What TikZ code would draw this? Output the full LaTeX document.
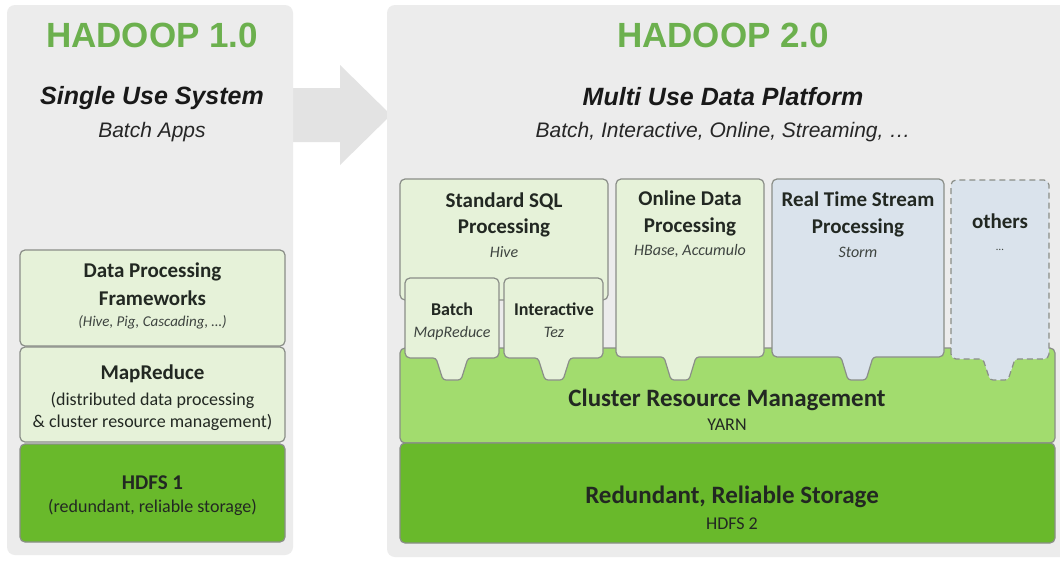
\documentclass[tikz,border=0pt]{standalone}
\usepackage{fontspec}
\setmainfont{Carlito}
\newfontfamily\arialf{Liberation Sans}
\definecolor{panelgray}{HTML}{ECECEC}
\definecolor{arrowgray}{HTML}{E3E3E3}
\definecolor{palegreen}{HTML}{E6F2D9}
\definecolor{bluegray}{HTML}{DAE3EC}
\definecolor{yarngreen}{HTML}{A2DC6E}
\definecolor{hdfsgreen}{HTML}{69B92B}
\definecolor{titlegreen}{HTML}{6CB04E}
\definecolor{linegray}{HTML}{8A8E88}
\definecolor{txtdark}{HTML}{222822}
\definecolor{txtsub}{HTML}{3E4440}
\tikzset{
  boxline/.style={draw=linegray, line width=1.2pt},
  bigtitle/.style={anchor=base, inner sep=0pt, text=titlegreen, font=\arialf\bfseries\fontsize{35}{40}\selectfont},
  subtitle/.style={anchor=base, inner sep=0pt, text=black!90, font=\arialf\bfseries\itshape\fontsize{25}{30}\selectfont},
  subsub/.style={anchor=base, inner sep=0pt, text=black!85, font=\arialf\itshape\fontsize{21}{25}\selectfont},
  head/.style={anchor=base, inner sep=0pt, text=txtdark, font=\bfseries\fontsize{21}{25}\selectfont},
  smallhead/.style={anchor=base, inner sep=0pt, text=txtdark, font=\bfseries\fontsize{18}{22}\selectfont},
  ital/.style={anchor=base, inner sep=0pt, text=txtsub, font=\itshape\fontsize{16}{20}\selectfont},
  plain/.style={anchor=base, inner sep=0pt, text=txtdark, font=\fontsize{18}{22}\selectfont},
  layerhead/.style={anchor=base, inner sep=0pt, text=txtdark, font=\bfseries\fontsize{25}{30}\selectfont},
}
\newcommand\tabbox[6]{%
  \draw[#1] (#2,#5) [rounded corners=5pt] -- (#2,#3) -- (#4,#3) -- (#4,#5)
    [rounded corners=3pt] -- ({#6+16},#5) -- ({#6+9},380) -- ({#6-9},380) -- ({#6-16},#5)
    [rounded corners=5pt] -- cycle;}
\begin{document}
\begin{tikzpicture}[x=1pt,y=-1pt]
\useasboundingbox (0,0) rectangle (1060,560);
\fill[white] (0,0) rectangle (1060,560);
% arrow
\fill[arrowgray] (285,88) -- (340,88) -- (340,65) -- (391,115) -- (340,165) -- (340,142) -- (285,142) -- cycle;
% panels
\fill[panelgray, rounded corners=8pt] (7,5) rectangle (293,555);
\fill[panelgray, rounded corners=8pt] (387,5) rectangle (1068,557);
% titles
\node[bigtitle] (t1) at (152,47) {HADOOP 1.0};
\node[subtitle] (s1) at (152,104) {Single Use System};
\node[subsub] (b1) at (152,137) {Batch Apps};
\node[bigtitle] (t2) at (723,47) {HADOOP 2.0};
\node[subtitle] (s2) at (723,105) {Multi Use Data Platform};
\node[subsub] (b2) at (723,137) {Batch, Interactive, Online, Streaming, …};
% left stack
\draw[boxline, fill=palegreen, rounded corners=5pt] (20,250) rectangle (285,346);
\draw[boxline, fill=palegreen, rounded corners=5pt] (20,347) rectangle (285,442);
\draw[boxline, fill=hdfsgreen, rounded corners=5pt] (20,444) rectangle (285,542);
\node[head] (dp1) at (152.5,277) {Data Processing};
\node[head] (dp2) at (152.5,305) {Frameworks};
\node[ital, font=\itshape\fontsize{15}{18}\selectfont] (dp3) at (152.5,326) {(Hive, Pig, Cascading, …)};
\node[head] (mr1) at (152.5,379) {MapReduce};
\node[plain] (mr2) at (152.5,405) {(distributed data processing};
\node[plain] (mr3) at (152.5,427) {\& cluster resource management)};
\node[head] (h11) at (152.5,489) {HDFS 1};
\node[plain] (h12) at (152.5,512) {(redundant, reliable storage)};
% right layers
\draw[boxline, fill=yarngreen, rounded corners=5pt] (400,348) rectangle (1055,443);
\draw[boxline, fill=hdfsgreen, rounded corners=5pt] (400,443) rectangle (1055,543);
\node[layerhead] (crm) at (727,406) {Cluster Resource Management};
\node[plain] (yarn) at (727,430) {YARN};
\node[layerhead] (rrs) at (732,503) {Redundant, Reliable Storage};
\node[plain] (hdfs2) at (732,529) {HDFS 2};
% app boxes
\draw[boxline, fill=palegreen, rounded corners=5pt] (400,179) rectangle (608,300);
\tabbox{boxline, fill=palegreen}{405}{278}{499}{358}{452}
\tabbox{boxline, fill=palegreen}{504}{278}{603}{358}{554}
\tabbox{boxline, fill=palegreen}{616}{179}{764}{357}{680}
\tabbox{boxline, fill=bluegray}{772}{179}{944}{357}{857}
\tabbox{boxline, fill=bluegray, dash pattern=on 6pt off 4pt}{951}{180}{1049}{359}{999}
\node[head] (sq1) at (504,207) {Standard SQL};
\node[head] (sq2) at (504,233) {Processing};
\node[ital] (sq3) at (504,257) {Hive};
\node[smallhead] (ba1) at (452,315) {Batch};
\node[ital] (ba2) at (452,337) {MapReduce};
\node[smallhead] (in1) at (554,315) {Interactive};
\node[ital] (in2) at (554,337) {Tez};
\node[head] (on1) at (690,205) {Online Data};
\node[head] (on2) at (690,232) {Processing};
\node[ital] (on3) at (690,255) {HBase, Accumulo};
\node[head] (rt1) at (858,206) {Real Time Stream};
\node[head] (rt2) at (858,233) {Processing};
\node[ital] (rt3) at (858,257) {Storm};
\node[head] (ot1) at (1000,228) {others};
\node[ital, font=\fontsize{11}{13}\selectfont] (ot2) at (1000,250) {…};
\end{tikzpicture}
\end{document}
